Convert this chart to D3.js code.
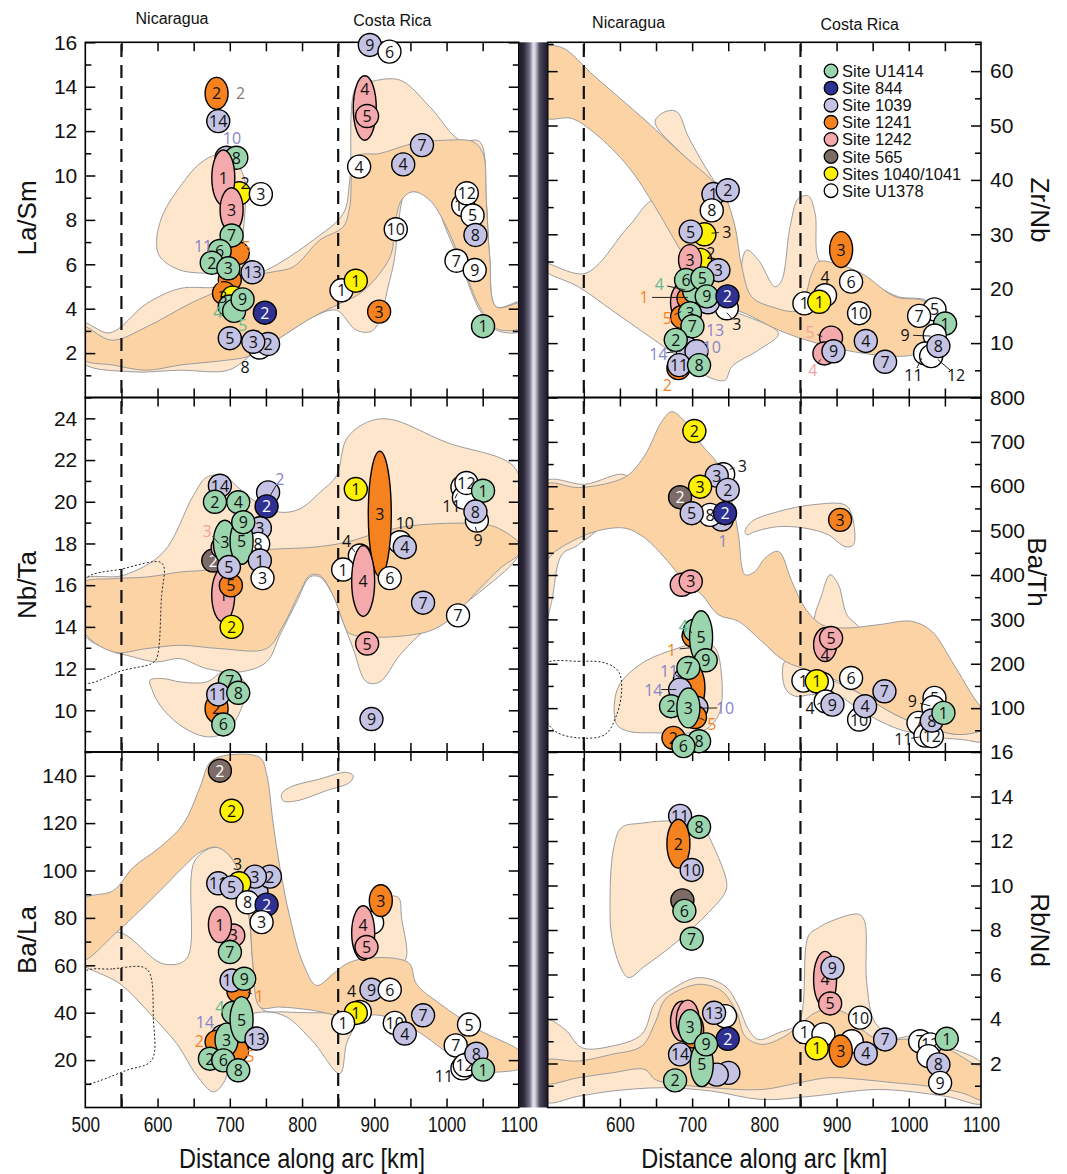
<!DOCTYPE html>
<html>
<head>
<meta charset="utf-8">
<script src="https://cdn.jsdelivr.net/npm/d3@7"></script>
<style>
  body { margin: 0; background: #fff; }
  svg text { font-family: "Liberation Sans", Arial, sans-serif; }
  .num { font-family: "Open Sans", "Noto Sans", sans-serif; font-size: 16px; }
</style>
</head>
<body>
<div id="chart"></div>
<script>
// ---- sites ----
const sites = ["U1414", "844", "1039", "1241", "1242", "565", "1040/1041", "U1378"];
const siteNames = ["Site U1414", "Site 844", "Site 1039", "Site 1241", "Site 1242", "Site 565", "Sites 1040/1041", "Site U1378"];

// ---- tick labels ----
const kmTicks = [500, 600, 700, 800, 900, 1000, 1100];
const laSmTicks = [2, 4, 6, 8, 10, 12, 14, 16];
const zrNbTicks = [10, 20, 30, 40, 50, 60];
const nbTaTicks = [10, 12, 14, 16, 18, 20, 22, 24];
const baThTicks = [100, 200, 300, 400, 500, 600, 700, 800];
const baLaTicks = [20, 40, 60, 80, 100, 120, 140];
const rbNdTicks = [2, 4, 6, 8, 10, 12, 14, 16];

// ---- samples: [site, label, km, value, half-range of value (ellipse), label value] ----
const laSmPts = [
  ["1241","2",681.7,13.7,0.72], ["1039","14",684,12.45], ["1039","",695.6,10.8], ["U1414","8",709,10.8],
  ["1040/1041","",713,9.2], ["1242","1",691,9.9,1.25], ["U1378","3",743,9.16], ["1242","3",702.5,8.45,1.0],
  ["1039","",690,6.4], ["1241","",711,6.5], ["U1414","7",702.5,7.3], ["U1414","6",686,6.6], ["U1414","2",675,6.07],
  ["1241","",700,5.3], ["U1414","3",698,5.82], ["1039","13",731.5,5.64], ["1241","",692,4.7], ["1040/1041","",704,4.5],
  ["U1414","",700,4.1], ["U1414","",706,3.9], ["U1414","9",717.7,4.42], ["844","2",748.5,3.82], ["U1378","",741,2.25],
  ["1039","5",700,2.67], ["1039","2",753,2.41], ["1039","3",732.5,2.51],
  ["1039","9",893.8,15.88], ["U1378","6",921,15.58], ["1242","4",886.8,13.04,1.45,13.9], ["1242","5",890,12.68],
  ["U1378","4",879,10.4], ["1039","7",966,11.37], ["1039","4",940,10.5], ["U1378","11",1023,8.67],
  ["U1378","12",1028,9.2], ["U1378","5",1036,8.2], ["1039","8",1040,7.32], ["U1378","10",929.7,7.58],
  ["U1378","7",1013.7,6.16], ["U1378","9",1039,5.74], ["U1378","1",854.6,4.83], ["1040/1041","1",874.4,5.26],
  ["1241","3",906.7,3.87], ["U1414","1",1050.5,3.21]
];
const zrNbPts = [
  ["1039","1",729.5,37.4], ["1039","2",749.3,38.1], ["U1378","8",727.2,34.4], ["1040/1041","",717,30.0],
  ["1039","5",698,30.5], ["1040/1041","",711,25.3], ["1242","3",697.1,25.3,2.8], ["1039","3",736.4,23.4],
  ["1242","",686,17.5,3.5], ["1241","",695,18.2], ["U1414","",703,19.5], ["U1378","",748,16.4], ["1039","",722,17.5],
  ["1241","",686,14.8], ["U1414","3",697,15.5], ["U1414","6",691.6,21.6], ["U1414","5",714.2,21.9],
  ["U1414","9",720.2,18.6], ["844","2",748.9,18.6], ["U1414","7",700.4,13.1], ["1039","",693,9.0], ["1039","",706,8.5],
  ["U1414","2",677.3,10.6], ["1241","",681,5.4], ["1039","11",681.9,5.96], ["U1414","8",709.6,5.96],
  ["1241","3",906.3,27.2,3.3], ["U1378","",884,18.8], ["U1378","6",920.1,21.3], ["U1378","1",855.5,17.3],
  ["1040/1041","1",876,17.6], ["U1378","10",931.2,15.5], ["1242","",892.4,11.0], ["1242","",883.2,8.1],
  ["1039","9",895.7,8.5], ["1039","4",940.5,10.4], ["1039","7",967.2,6.57], ["U1378","5",1035.6,16.2],
  ["U1378","7",1014.3,15], ["U1414","1",1050.3,13.6], ["U1378","",1036,11.4], ["U1378","",1022.6,8.1],
  ["U1378","",1031,7.6], ["1039","8",1041,9.45]
];
const nbTaPts = [
  ["1039","14",686.3,20.77], ["U1414","2",679.4,20.0], ["U1414","4",711.7,19.98], ["1039","",753,20.45],
  ["844","2",750.9,19.78], ["1039","3",741.6,18.73], ["U1378","8",739.3,17.98], ["565","2",677.1,17.18],
  ["1242","1",690.9,15.54,1.3], ["1241","5",701.5,15.99], ["1242","",690,17.8], ["U1414","3",693.2,18.06,1.05],
  ["U1414","5",716.3,18.1,1.1], ["U1414","9",718.6,19.02], ["1039","5",698.8,16.87], ["1039","1",741.6,17.18],
  ["U1378","3",745.3,16.34], ["1040/1041","2",702.5,14.0], ["U1414","7",700.2,11.4], ["1241","2",681.7,10.09,0.7],
  ["1039","11",684,10.76], ["U1414","8",711.7,10.84], ["U1414","6",691,9.32],
  ["1040/1041","1",874.4,20.61], ["U1378","",880,17.42], ["U1378","1",856.9,16.75], ["U1378","",935.3,18.06],
  ["1039","4",942.2,17.82], ["1241","3",907.6,19.42,3.0], ["1242","4",884.6,16.2,1.7], ["U1378","6",921.4,16.34],
  ["1039","7",967.5,15.16], ["U1378","7",1015.9,14.55], ["1242","5",890.1,13.2], ["1039","9",896.1,9.58],
  ["U1378","",1022,20.7,0.5], ["U1378","",1024,20.2], ["U1378","12",1027.5,20.9], ["U1378","",1042,19.1],
  ["U1414","1",1050.5,20.53], ["1039","8",1040,19.53]
];
const baThPts = [
  ["1040/1041","2",703.1,724.5], ["U1378","",743,627], ["1039","3",734.1,624], ["1040/1041","3",711,599],
  ["1039","2",749.3,591.8], ["565","2",683.3,575.3], ["1039","",741,525], ["U1378","8",724.8,535.5],
  ["1039","5",699.4,539.3], ["844","2",745.6,539.3], ["1242","",685.6,378], ["1242","3",698.1,385.5],
  ["1241","3",904.9,524.3], ["1241","",702,263], ["U1414","",704,275], ["U1414","5",712.4,259.5,60],
  ["U1414","9",718.8,207.8], ["1039","",690,165], ["1241","",701.8,145.5,55], ["U1414","7",694.8,190.5],
  ["1039","",683.3,141.8], ["1039","",706,101], ["1241","",704,80], ["U1414","2",670.8,104.3],
  ["U1414","3",694.8,100.5,45], ["1241","2",674.1,33], ["U1414","8",709.6,25.5], ["U1414","6",687.9,14.3],
  ["1242","4",884.1,243,38,220], ["1242","5",892.4,258], ["U1378","1",854.1,162], ["U1378","",880,155],
  ["1040/1041","1",872.6,160.5], ["U1378","6",920.1,168], ["U1378","",885,115], ["1039","9",894.3,108],
  ["1039","7",966.3,138], ["U1378","10",931.2,74.3], ["1039","4",939.5,104.3], ["U1378","5",1035.6,123],
  ["U1378","",1034,102], ["U1378","7",1013.4,66.8], ["U1378","",1023,38], ["U1378","12",1031.9,36.8],
  ["1039","8",1031.9,72], ["U1414","1",1048,89.3]
];
const baLaPts = [
  ["565","2",686.3,142.1], ["1040/1041","2",702.5,125.2], ["1039","",737,90.8], ["1039","2",755.5,97.4],
  ["1039","3",734.7,97.4], ["1040/1041","",713,94.6], ["1039","11",684,94.6], ["1039","5",702.5,92.9],
  ["U1378","8",724.6,86.6], ["844","2",750.9,85.6], ["U1378","3",744,78.2], ["1242","3",704.8,72.6],
  ["1242","1",686.3,77.2,7.6], ["U1414","7",700.2,65.6], ["1241","",712,49], ["1039","10",702.5,53.6],
  ["U1414","9",720,54.3], ["U1414","",705,40], ["1039","",690,30], ["1241","",681.7,27.7], ["1241","",710,24],
  ["U1414","3",695.5,28.6,7], ["U1414","5",716.3,37.1,9.7], ["1039","13",737,29.1], ["U1414","2",672.5,20.6],
  ["U1414","6",691,19.9], ["U1414","8",711.7,15.7],
  ["U1378","",897,78], ["1241","3",909,87.3,6.7], ["1242","4",884.6,73.6,11.5,77], ["1242","5",889.2,67.7],
  ["1039","9",896.1,49.7], ["U1378","6",921.4,49.7], ["U1378","",880,40.3], ["1040/1041","1",874.4,39.9],
  ["U1378","1",856.9,35.7], ["U1378","10",928.3,35.7], ["1039","4",942.2,31.2], ["1039","7",967.5,38.9],
  ["U1378","5",1031.1,35], ["U1378","7",1012.7,26.2], ["U1378","",1022,16.5], ["U1378","12",1025.2,17.8],
  ["1039","8",1041.3,22.7], ["U1414","1",1050.5,16]
];
const rbNdPts = [
  ["1039","11",683.3,13.13], ["U1414","8",709.6,12.63], ["1241","2",681,11.88,1.1], ["1039","10",699.4,10.7],
  ["565","",686.5,9.33], ["U1414","6",689.3,8.86], ["U1414","7",699.4,7.61], ["U1378","",745.6,4.13],
  ["1039","13",730.4,4.28], ["1242","",686,3.9,0.9], ["1242","",694,3.95,0.9], ["1241","",700,3.5,0.8],
  ["U1414","3",697.1,3.65,0.77], ["844","2",749.3,3.11], ["1039","",750.2,1.58], ["1039","",734.1,1.5],
  ["1039","14",683.3,2.41], ["U1414","5",713.3,1.96,1.0], ["U1414","9",719.3,2.86], ["U1414","2",676.4,1.24],
  ["1242","4",884.1,5.78,1.26], ["1039","9",894.3,6.3], ["1242","5",891.1,4.7], ["U1378","10",932.6,4.06],
  ["U1378","1",855.5,3.41], ["U1378","",881.8,3.31], ["U1378","",921,3.0], ["1040/1041","1",872.6,2.68],
  ["1241","3",905.8,2.56,0.72], ["1039","4",940.4,2.45], ["1039","7",967.2,3.08], ["U1378","7",1015.7,3.0],
  ["U1378","12",1029.6,2.86], ["U1378","",1027.3,2.33], ["U1414","1",1052.6,3.11], ["1039","8",1041,1.96],
  ["U1378","9",1043.4,1.13]
];

// ---- floating labels: [site, text, km, value, target km, target value] ----
const laSmNotes = [
  ["565","2",715,13.7], ["1039","10",703,11.69], ["U1378","2",721,9.66], ["1039","11",663,6.84],
  ["1241","5",723,6.77], ["1241","4",684,4.99], ["U1378","3",690.5,4.53], ["U1414","4",683.5,3.87],
  ["U1414","5",718,3.27], ["U1378","8",721,1.37]
];
const zrNbNotes = [
  ["U1378","3",747.9,30.5,727,30.2], ["U1378","2",725.8,26.5], ["U1414","4",654.6,20.8,690,19.8],
  ["1241","1",633.4,18.4,694,18.4], ["1241","5",665.7,14.6,685,15.8], ["U1378","3",761.8,13.5,748,15.6],
  ["1039","13",731.7,12.4], ["1039","14",653.2,8.0,685,8.6], ["1039","10",727.1,9.3], ["1241","2",665.7,2.3],
  ["U1378","4",884,22.2], ["1242","5",863.3,12.1,880,11.2], ["1242","4",867,5.1,878,7],
  ["U1378","9",994.9,11.5,1030,11.3], ["U1378","11",1006.4,4.1,1018,7.2], ["U1378","12",1065.5,4.1,1040,7]
];
const nbTaNotes = [
  ["1039","2",769.3,21.1,756,20.3], ["1242","3",668.7,18.62,685,18.0], ["U1378","10",942.2,18.99],
  ["U1378","4",861.5,18.14,873,17.6], ["U1378","11",1006.8,19.82,1015,20.4], ["U1378","9",1043.6,18.19,1040,18.8]
];
const baThNotes = [
  ["U1378","3",769.5,646.4,752,638], ["1039","1",742.4,477.7], ["U1414","4",687.8,284.2,700,270],
  ["1241","1",671.7,231.8,698,236], ["1039","11",668,183,688,165], ["1039","14",646.3,141.8,678,142],
  ["1039","10",745.6,100.5,712,100], ["1241","5",727.1,64.5,710,78], ["U1378","4",863.3,100.5,878,112],
  ["U1378","9",1005,115.5,1030,105], ["U1378","11",992.5,29.3,1015,35]
];
const baLaNotes = [
  ["U1378","3",710.8,102.8], ["1241","1",741,47.1,725,48.5], ["U1414","4",686.3,42.2], ["1039","14",665.6,36.1],
  ["1241","2",657.7,28.1], ["1241","5",727.8,21.7], ["U1378","4",868.5,49.2], ["U1378","11",996.5,13.3]
];
const rbNdNotes = [];

// ---- fields (km, value) ----
const laSmDark = [[495,3.2],[536.5,2.58],[584.9,3.18],[644.8,4.23],[691,4.9],[723,5.43],[760,5.66],[788,5.89],[824.6,7.09],[857,7.69],[866,8.59],[875,10.84],[907.6,10.99],[953.7,11.44],[999.8,11.59],[1036.7,11.52],[1050.5,10.99],[1055,8.89],[1059.7,6.34],[1069,4.08],[1105,4.23],[1105,3.18],[1069,3.1],[1046,4.08],[1023,5.88],[999.8,7.69],[976.7,8.89],[953.7,9.27],[937.6,8.89],[928.3,7.69],[923.7,6.49],[907.6,5.59],[880,4.68],[852.3,4.23],[815.4,3.63],[778.5,2.88],[750.9,2.28],[723.2,1.83],[695.5,1.68],[631,1.46],[584.9,1.23],[538.8,1.46],[495,1.76]];
const laSmLight = [[495,3.36],[534,2.91],[584.9,4.23],[631,4.91],[686.3,4.99],[750.9,5.74],[815.4,7.09],[857,8.29],[866,9.79],[875,14],[893.8,14.22],[935.3,14.3],[976.7,13.1],[1018.2,11.59],[1046,11.52],[1055,8.89],[1059.7,6.34],[1069,4.08],[1105,4.3],[1105,3.03],[1069,3.03],[1046,3.93],[1023,5.73],[999.8,7.54],[981.3,8.89],[958.3,9.27],[942.2,9.12],[933,7.69],[928.3,6.34],[921.4,5.29],[898.4,3.03],[875.3,3.03],[847.7,3.93],[815.4,3.63],[778.5,2.88],[732.4,1.98],[697.8,1.23],[631,1.23],[561.9,1.16],[495,1.61]];
const laSmBlob = [[598.7,7.09],[608,8.29],[631,9.49],[658.7,10.54],[681.7,10.92],[704.8,10.69],[720.9,9.79],[720.9,8.29],[718.6,7.09],[727.8,5.89],[709.4,5.59],[677.1,5.59],[631,5.74],[603.3,6.34]];

const zrNbDark = [[495,64.2],[519.4,64.35],[565.6,58.96],[634.8,51],[690.2,44.25],[727.2,39.97],[745.6,36.9],[759.5,31.39],[768.7,24.04],[782.5,18.52],[810.3,16.68],[847.2,16.07],[865.7,22.81],[874.9,24.96],[898,24.65],[934.9,22.81],[981.1,18.52],[1018,17.91],[1031.9,16.68],[1027.3,13.01],[1022.6,9.33],[1004.2,7.8],[958,7.8],[911.8,8.72],[865.7,10.25],[819.5,12.4],[773.3,15.46],[745.6,16.68],[727.2,17.3],[704.1,22.81],[681,27.71],[648.7,35.07],[611.7,42.42],[565.6,48.54],[533.2,51.3],[495,51.6]];
const zrNbLightA = [[495,24.65],[551.7,22.81],[611.7,31.39],[648.7,36.29],[690.2,26.49],[713.3,19.13],[754.9,16.07],[819.5,11.78],[791.8,8.72],[754.9,5.66],[745.6,3.2],[727.2,3.51],[681,7.49],[634.8,11.78],[588.6,16.07],[542.5,20.36],[495,23.42]];
const zrNbLightB = [[648.7,50.69],[662.5,52.53],[678.7,52.53],[694.8,47.93],[717.9,42.42],[731.8,39.35],[690.2,44.25]];
const zrNbLightC = [[768.7,24.04],[775.6,27.1],[791.8,25.26],[814.9,20.36],[824.1,21.59],[835.6,31.39],[847.2,36.6],[861,37.03],[870.3,33.84],[877.2,24.96],[911.8,24.04],[958,20.36],[985.7,18.52],[1022.6,17.91],[1027.3,16.68],[847.2,15.46],[782.5,17.91]];

const nbTaDark = [[495,13.91],[538.8,12.8],[584.9,12.96],[631,13.12],[686.3,12.96],[750.9,12.96],[773.9,14.07],[797,15.67],[810.8,16.47],[824.6,16.47],[843,15.51],[856.9,14.23],[866.1,13.68],[963.3,13.68],[999.8,14.23],[1045.9,15.83],[1073.6,16.79],[1105,17.74],[1073.6,18.7],[1045.9,18.94],[953.7,18.86],[907.6,18.54],[861.5,18.06],[815.4,17.82],[769.3,17.74],[741.6,17.66],[704.8,17.26],[677.1,16.79],[631,16.63],[584.9,16.39],[538.8,16.31],[495,16.07]];
const nbTaLight = [[495,16.23],[552.6,16.47],[608,17.58],[649.4,20.29],[667.9,21.17],[690.9,21.25],[714,20.61],[737,19.98],[769.3,19.5],[797,19.66],[824.6,20.45],[847.7,21.25],[861.5,23.01],[889.2,23.8],[921.4,23.96],[999.8,22.85],[1092,21.73],[1105,20.29],[1105,17.74],[1045.9,15.67],[967.5,13.76],[935.3,12.64],[907.6,11.36],[889.2,11.36],[870.7,12.96],[856.9,14.23],[843,15.51],[824.6,16.39],[810.8,16.39],[792.4,15.19],[769.3,13.6],[750.9,12.32],[714,11.84],[667.9,12],[631,12.48],[598.7,12.32],[557.2,12.64],[538.8,12.8],[495,13.76]];
const nbTaBlob = [[589.5,11.44],[608,11.52],[631,11.36],[667.9,11.36],[690.9,11.84],[709.4,11.68],[723.2,11.2],[714,9.93],[695.5,8.97],[667.9,8.73],[631,9.29],[603.3,10.25],[591.8,11.04]];
const nbTaDotted = [[495,16.15],[552.6,16.79],[603.3,17.11],[608.9,16.87],[605.6,15.51],[598.7,12.48],[591.8,12.24],[552.6,11.92],[495,11.36]];

const baThDark = [[495,603],[542.5,597],[588.6,609],[611.7,625.5],[634.8,670.5],[657.9,745.5],[671.7,768],[690.2,745.5],[713.3,693],[736.4,648],[754.9,565.5],[764.1,490.5],[773.3,400.5],[787.2,408],[801,438],[819.5,453],[838,385.5],[856.4,325.5],[879.5,288],[911.8,280.5],[958,288],[1004.2,295.5],[1031.9,273],[1059.6,205.5],[1087.3,130.5],[1105,85.5],[1105,55.5],[1073.4,40.5],[1027.3,55.5],[981.1,85.5],[934.9,130.5],[902.6,160.5],[865.7,183],[828.7,205.5],[796.4,250.5],[764.1,295.5],[736.4,310.5],[713.3,355.5],[690.2,385.5],[662.5,438],[634.8,483],[607.1,505.5],[565.6,498],[533.2,475.5],[510.2,453],[495,430.5]];
const baThLightA = [[495,609],[551.7,604.5],[607.1,625.5],[616.3,580.5],[542.5,468],[519.4,445.5],[505.5,340.5],[495,280.5]];
const baThLightB = [[773.3,498],[782.5,520.5],[819.5,543],[865.7,558],[911.8,558],[921.1,535.5],[923.4,468],[911.8,464],[888.7,490.5],[856.4,505.5],[819.5,509],[787.2,498],[775.6,490.5]];
const baThLightC = [[870.3,288],[879.5,355.5],[891.1,400.5],[902.6,378],[914.2,310.5],[930.3,280.5],[902.6,265.5]];
const baThLightD = [[593.3,123],[602.5,160.5],[634.8,205.5],[681,235.5],[713.3,250.5],[731.8,235.5],[741,168],[738.7,93],[727.2,63],[713.3,48],[648.7,44.3],[611.7,48],[595.6,63]];
const baThLightE = [[828.7,205.5],[865.7,183],[934.9,130.5],[981.1,85.5],[1027.3,55.5],[1073.4,40.5],[1105,55.5],[1105,25.5],[1073.4,29.3],[1027.3,36.8],[981.1,55.5],[934.9,93],[902.6,126.8],[865.7,130.5],[842.6,126.8],[828.7,145.5]];
const baThDotted = [[495,198],[542.5,205.5],[579.4,201.8],[597.9,183],[602.5,145.5],[595.6,85.5],[579.4,40.5],[542.5,33],[510.2,48],[495,85.5]];

const baLaDark = [[495,87.3],[538.8,91.5],[566.5,101.4],[603.3,109.8],[635.6,119.6],[658.7,135.1],[672.5,145.6],[690.9,148.4],[741.6,147.7],[750.9,140.7],[760.1,119.6],[769.3,101.4],[783.1,80.3],[801.6,60.6],[820,51.5],[843.1,56.4],[861.5,60.6],[884.6,62.8],[930.6,62.8],[949.1,60.6],[958.3,52.2],[990.6,43.8],[1045.9,32.6],[1105,22.7],[1105,17.1],[1073.6,15],[1036.7,15.7],[999.8,23.4],[953.7,33.3],[907.6,38.9],[861.5,38.2],[815.4,41],[769.3,42.4],[741.6,42.4],[732.4,59.2],[725.5,83.1],[704.8,104.2],[681.7,109.8],[658.7,107.7],[640.2,102.8],[612.6,94.3],[575.7,83.1],[543.4,74],[495,62.1]];
const baLaLight = [[495,62.1],[543.4,74],[608,60.6],[640.2,62.8],[651.7,104.2],[681.7,109.8],[704.8,104.2],[725.5,83.1],[732.4,59.2],[743.9,41.7],[778.5,40.3],[852.3,39.6],[875.3,38.2],[861.5,26.9],[852.3,14.3],[815.4,27.7],[778.5,38.2],[750.9,40.3],[723.2,38.2],[704.8,24.1],[690.9,10.1],[677.1,6.6],[654.1,13.6],[626.4,27],[589.5,39.6],[548,52.2],[495,60.6]];
const baLaBlob2 = [[771.6,132.2],[783.1,135.1],[824.6,138.6],[861.5,141.4],[870.7,140],[866.1,137.2],[833.8,133.7],[792.4,129.4],[773.9,129.4]];
const baLaBlob3 = [[893.8,83.1],[907.6,88],[933,88.7],[937.6,80.3],[942.2,62.1],[907.6,62.8],[893.8,63.5]];
const baLaDotted = [[495,56.4],[538.8,58.5],[580.3,59.2],[589.5,56.4],[594.1,38.2],[591.8,19.9],[557.2,15.7],[506.5,10.1],[495,10.1]];

const rbNdDark = [[495,2.11],[542.5,2.11],[588.6,2.41],[630.2,2.78],[648.7,3.83],[662.5,4.88],[690.2,5.41],[713.3,5.56],[741,5.26],[761.8,4.28],[773.3,3.23],[796.4,2.86],[828.7,3.23],[851.8,3.83],[870.3,4.28],[888.7,4.43],[911.8,4.28],[934.9,3.53],[958,3.08],[1004.2,3.08],[1050.3,2.71],[1087.3,2.03],[1105,1.73],[1105,0.38],[1073.4,0.68],[1027.3,0.98],[981.1,1.13],[934.9,1.28],[888.7,1.36],[847.2,1.13],[796.4,0.83],[727.2,0.91],[681,1.06],[648.7,1.28],[634.8,1.73],[588.6,1.58],[542.5,1.36],[495,1.13]];
const rbNdLight = [[495,3.98],[524,3.53],[547.1,2.71],[588.6,2.78],[630.2,3.31],[648.7,4.73],[671.7,5.33],[708.7,5.86],[745.6,5.48],[764.1,4.58],[778,3.53],[791.8,3.08],[819.5,3.38],[847.2,3.83],[861,7.73],[874.9,8.1],[893.4,8.41],[930.3,8.71],[938.6,8.41],[941.8,5.63],[953.4,3.83],[981.1,3.16],[1004.2,3.23],[1050.3,2.78],[1105,1.88],[1105,0.23],[1050.3,0.53],[958,0.83],[865.7,0.53],[796.4,0.38],[727.2,0.76],[657.9,0.91],[588.6,0.76],[542.5,0.53],[495,0.31]];
const rbNdBlob = [[586.3,8.93],[591,11.63],[602.5,12.61],[630.2,12.8],[671.7,12.9],[713.3,12.68],[727.2,11.93],[747.9,10.13],[745.6,9.68],[713.3,8.48],[671.7,7.28],[634.8,6.38],[611.7,5.86],[600.2,6.38],[588.6,7.73]];

// ---- styles ----
const fillOf = {"U1414":"#9bd5ae","844":"#2e3192","1039":"#c5c3e3","1241":"#f5821f","1242":"#f4a9ac","565":"#7c6c65","1040/1041":"#fff200","U1378":"#ffffff"};
const noteOf = {"U1414":"#62ba8d","844":"#2e3192","1039":"#8684c8","1241":"#f5821f","1242":"#f2a0a3","565":"#8a7a72","1040/1041":"#111","U1378":"#111"};
const DARK = "#fcd3a5", LIGHT = "#fde6cc", R = 11.5;

const width = 1067, height = 1174;
const svg = d3.select('#chart').append('svg').attr('width', width).attr('height', height);

const xScales = [
  d3.scaleLinear().domain([500, 1100]).range([85.3, 518.8]),
  d3.scaleLinear().domain([500, 1100]).range([547.7, 981])
];
const rows = [[42.3, 397.5], [397.5, 752], [752, 1107.5]];

const panels = [
  {col:0,row:0,name:'La/Sm',domain:[0,16],range:[397.5,42.3],ticks:laSmTicks,minor:1,pts:laSmPts,notes:laSmNotes,
   light:[laSmLight,laSmBlob],dark:[laSmDark],dotted:[],tx:27,ty:218},
  {col:1,row:0,name:'Zr/Nb',domain:[0,65.3],range:[397.5,42.3],ticks:zrNbTicks,minor:5,pts:zrNbPts,notes:zrNbNotes,
   light:[zrNbLightA,zrNbLightB,zrNbLightC],dark:[zrNbDark],dotted:[],tx:1040,ty:210},
  {col:0,row:1,name:'Nb/Ta',domain:[8,25],range:[752,397.5],ticks:nbTaTicks,minor:1,pts:nbTaPts,notes:nbTaNotes,
   light:[nbTaLight,nbTaBlob],dark:[nbTaDark],dotted:[nbTaDotted],tx:27,ty:585},
  {col:1,row:1,name:'Ba/Th',domain:[0,800],range:[752.5,397.5],ticks:baThTicks,minor:50,pts:baThPts,notes:baThNotes,
   light:[baThLightA,baThLightB,baThLightC,baThLightD,baThLightE],dark:[baThDark],dotted:[baThDotted],tx:1037,ty:572},
  {col:0,row:2,name:'Ba/La',domain:[0,150],range:[1107.5,752],ticks:baLaTicks,minor:10,pts:baLaPts,notes:baLaNotes,
   light:[baLaLight,baLaBlob2,baLaBlob3],dark:[baLaDark],dotted:[baLaDotted],tx:27,ty:940},
  {col:1,row:2,name:'Rb/Nd',domain:[0,16],range:[1108,752],ticks:rbNdTicks,minor:1,pts:rbNdPts,notes:rbNdNotes,
   light:[rbNdLight,rbNdBlob],dark:[rbNdDark],dotted:[],tx:1040,ty:930}
];

const defs = svg.append('defs');
const grad = defs.append('linearGradient').attr('id', 'bar').attr('x1', 0).attr('x2', 1).attr('y1', 0).attr('y2', 0);
[[0,'#1b1726'],[0.18,'#2e2a3c'],[0.38,'#77748a'],[0.5,'#e4e4ec'],[0.58,'#c8c7d2'],[0.72,'#4d4a5e'],[1,'#1b1726']]
  .forEach(s => grad.append('stop').attr('offset', s[0]).attr('stop-color', s[1]));

const layers = {
  fields: svg.append('g'),
  frame: svg.append('g'),
  marks: svg.append('g'),
  notes: svg.append('g')
};

panels.forEach((p, i) => {
  const x = xScales[p.col];
  const y = d3.scaleLinear().domain(p.domain).range(p.range);
  const [x0, x1] = x.range();
  const [y0, y1] = rows[p.row];

  defs.append('clipPath').attr('id', 'clip' + i)
    .append('rect').attr('x', x0).attr('y', y0).attr('width', x1 - x0).attr('height', y1 - y0);

  const shape = d3.line().x(d => x(d[0])).y(d => y(d[1])).curve(d3.curveCatmullRomClosed.alpha(0.5));
  const g = layers.fields.append('g').attr('clip-path', `url(#clip${i})`);

  p.light.forEach(poly => g.append('path').attr('d', shape(poly))
    .attr('fill', LIGHT).attr('stroke', '#9c9c9c').attr('stroke-width', 1));
  p.dark.forEach(poly => g.append('path').attr('d', shape(poly))
    .attr('fill', DARK).attr('stroke', '#9c9c9c').attr('stroke-width', 1));
  p.dotted.forEach(poly => g.append('path').attr('d', shape(poly))
    .attr('fill', 'none').attr('stroke', '#222').attr('stroke-width', 1).attr('stroke-dasharray', '2,2'));

  // frame + ticks
  const f = layers.frame;
  const minors = d3.range(p.domain[0] + p.minor, p.domain[1] + 0.001, p.minor).filter(v => !p.ticks.includes(v));
  const xTicks = d3.range(550, 1100, 50);

  const leftAxis = d3.axisLeft(y).tickValues(p.ticks).tickSize(-10).tickPadding(8);
  const rightAxis = d3.axisRight(y).tickValues(p.ticks).tickSize(-10).tickPadding(9);
  if (p.col === 0) rightAxis.tickFormat(''); else leftAxis.tickFormat('');

  const la = f.append('g').attr('transform', `translate(${x0},0)`).call(leftAxis);
  f.append('g').attr('transform', `translate(${x0},0)`).call(d3.axisLeft(y).tickValues(minors).tickSize(-6).tickFormat(''));
  const ra = f.append('g').attr('transform', `translate(${x1},0)`).call(rightAxis);
  f.append('g').attr('transform', `translate(${x1},0)`).call(d3.axisRight(y).tickValues(minors).tickSize(-6).tickFormat(''));
  f.append('g').attr('transform', `translate(0,${y0})`).call(d3.axisTop(x).tickValues(xTicks).tickSize(-9).tickFormat(''));
  f.append('g').attr('transform', `translate(0,${y1})`).call(d3.axisBottom(x).tickValues(xTicks).tickSize(-9).tickFormat(''));

  f.selectAll('.domain').remove();
  f.selectAll('.tick line').attr('stroke', '#000').attr('stroke-width', 1.5);
  [la, ra].forEach(a => a.selectAll('text').attr('font-size', 21).attr('fill', '#111')
    .attr('font-family', '"Liberation Sans", Arial, sans-serif'));

  f.append('rect').attr('x', x0).attr('y', y0).attr('width', x1 - x0).attr('height', y1 - y0)
    .attr('fill', 'none').attr('stroke', '#000').attr('stroke-width', 1.6);

  // axis title
  f.append('text').attr('transform', `translate(${p.tx},${p.ty}) rotate(${p.col === 0 ? -90 : 90})`)
    .attr('text-anchor', 'middle').attr('dominant-baseline', 'central')
    .attr('font-size', 26).attr('fill', '#111').text(p.name);

  // samples
  const m = layers.marks.append('g');
  p.pts.forEach(d => {
    const [site, lab, km, v, span, labAt] = d;
    const cx = x(km), cy = y(v);
    if (span) {
      const ry = Math.max(R, Math.abs(y(v + span) - cy));
      m.append('ellipse').attr('cx', cx).attr('cy', cy).attr('rx', R).attr('ry', ry)
        .attr('fill', fillOf[site]).attr('stroke', '#000').attr('stroke-width', 1.4);
    } else {
      m.append('circle').attr('cx', cx).attr('cy', cy).attr('r', R)
        .attr('fill', fillOf[site]).attr('stroke', '#000').attr('stroke-width', 1.4);
    }
    if (lab) {
      m.append('text').attr('class', 'num').attr('x', cx).attr('y', y(labAt === undefined ? v : labAt))
        .attr('text-anchor', 'middle').attr('dominant-baseline', 'central')
        .attr('fill', (site === '844' || site === '565') ? '#fff' : '#111').text(lab);
    }
  });

  // floating labels
  const n = layers.notes.append('g');
  p.notes.forEach(d => {
    const [site, txt, km, v, tk, tv] = d;
    const tx = x(km), ty = y(v);
    if (tk !== undefined) {
      const ex = x(tk), ey = y(tv);
      const len = Math.hypot(ex - tx, ey - ty) || 1;
      n.append('line').attr('x1', tx + (ex - tx) / len * 8).attr('y1', ty + (ey - ty) / len * 8)
        .attr('x2', ex).attr('y2', ey).attr('stroke', '#222').attr('stroke-width', 1);
    }
    n.append('text').attr('class', 'num').attr('x', tx).attr('y', ty)
      .attr('text-anchor', 'middle').attr('dominant-baseline', 'central')
      .attr('fill', noteOf[site]).text(txt);
  });
});

// dashed arc-segment markers
xScales.forEach(x => {
  [550, 850].forEach(km => {
    layers.frame.append('line').attr('x1', x(km)).attr('x2', x(km)).attr('y1', 44).attr('y2', 1107.5)
      .attr('stroke', '#111').attr('stroke-width', 2.2).attr('stroke-dasharray', '13,8');
  });
});

// bottom km labels (condensed look, like the source)
xScales.forEach((x, c) => {
  const vals = c === 0 ? kmTicks : kmTicks.filter(v => v > 500);
  const ax = layers.frame.append('g').attr('transform', 'translate(0,1107.5)')
    .call(d3.axisBottom(x).tickValues(vals).tickSize(0).tickPadding(9).tickFormat(d3.format('d')));
  ax.select('.domain').remove();
  ax.selectAll('text').attr('font-size', 21.5).attr('fill', '#111')
    .attr('font-family', '"Liberation Sans", Arial, sans-serif')
    .attr('transform', 'scale(0.8,1)');
  const [a, b] = x.range();
  layers.frame.append('text').attr('x', (a + b) / 2).attr('y', 1168)
    .attr('text-anchor', 'middle').attr('font-size', 27).attr('fill', '#111')
    .attr('textLength', 246).attr('lengthAdjust', 'spacingAndGlyphs')
    .text('Distance along arc [km]');
});

// separator bar
layers.frame.append('rect').attr('x', 518.8).attr('y', 42.3).attr('width', 547.7 - 518.8).attr('height', 1107.5 - 42.3)
  .attr('fill', 'url(#bar)');

// region names
[[0, 620, 18, 'Nicaragua'], [0, 925, 20, 'Costa Rica'], [1, 612, 22, 'Nicaragua'], [1, 932, 24, 'Costa Rica']]
  .forEach(t => svg.append('text').attr('x', xScales[t[0]](t[1])).attr('y', t[2])
    .attr('text-anchor', 'middle').attr('dominant-baseline', 'central')
    .attr('font-size', 16).attr('fill', '#111').text(t[3]));

// legend
const lg = svg.append('g').attr('transform', 'translate(831,71)');
sites.forEach((s, i) => {
  lg.append('circle').attr('cx', 0).attr('cy', i * 17.1).attr('r', 6.8)
    .attr('fill', fillOf[s]).attr('stroke', '#000').attr('stroke-width', 1.3);
  lg.append('text').attr('x', 11).attr('y', i * 17.1).attr('dominant-baseline', 'central')
    .attr('font-family', '"Open Sans", "Noto Sans", sans-serif').attr('font-size', 16.5).attr('fill', '#111')
    .text(siteNames[i]);
});
</script>
</body>
</html>
